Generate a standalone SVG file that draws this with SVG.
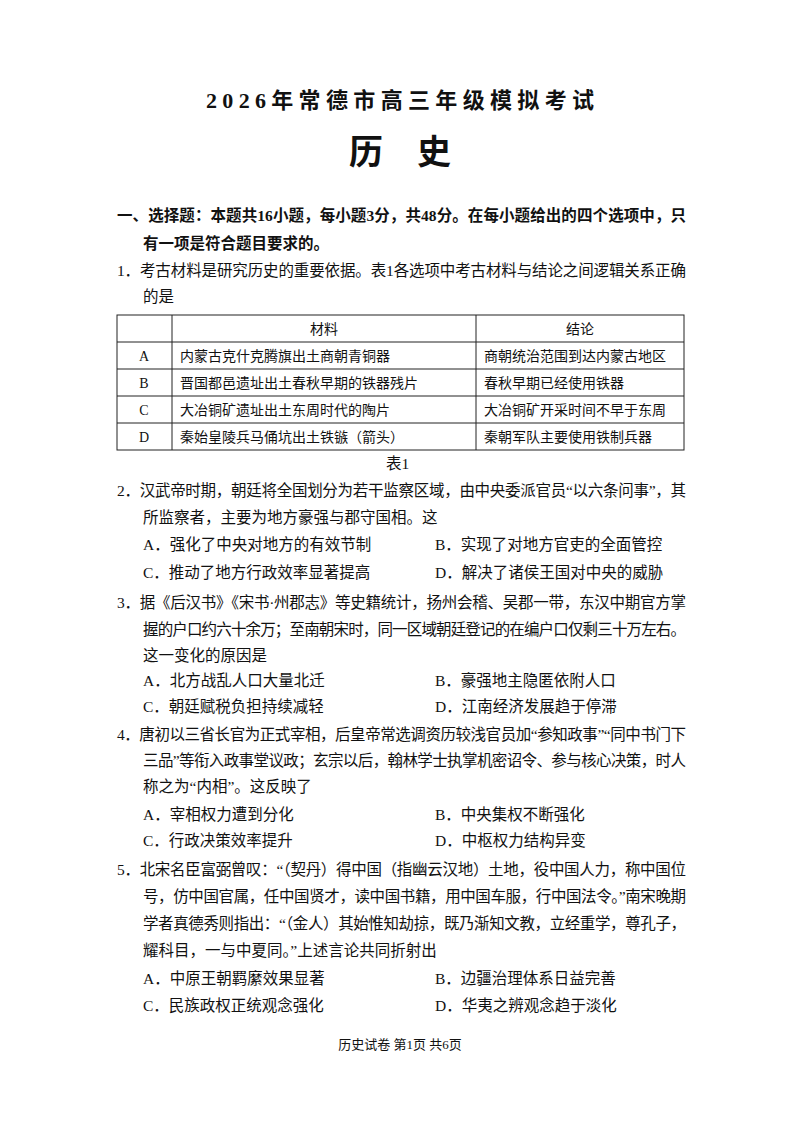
<svg xmlns="http://www.w3.org/2000/svg" width="800" height="1130" viewBox="0 0 800 1130">
<style>
text{font-family:"Liberation Serif","Noto Sans CJK SC",serif;fill:#111}
.t{font-size:15.5px}
.b{font-weight:bold}
.s{font-size:14px}
.c{text-anchor:middle}
line{stroke:#222;stroke-width:1}
</style>
<rect width="800" height="1130" fill="#fff"/>
<text x="400" y="108" class="c b" font-size="22" textLength="388" lengthAdjust="spacing">2026年常德市高三年级模拟考试</text>
<text x="400" y="164" class="c b" font-size="34">历　史</text>
<text x="117" y="221" class="t b" textLength="569" lengthAdjust="spacing">一、选择题：本题共16小题，每小题3分，共48分。在每小题给出的四个选项中，只</text>
<text x="143" y="249" class="t b">有一项是符合题目要求的。</text>
<text x="117" y="276" class="t" textLength="569" lengthAdjust="spacing">1．考古材料是研究历史的重要依据。表1各选项中考古材料与结论之间逻辑关系正确</text>
<text x="143" y="302" class="t">的是</text>
<g id="table">
<rect x="117" y="315" width="567" height="135" fill="none" stroke="#222"/>
<line x1="117" y1="342" x2="684" y2="342"/>
<line x1="117" y1="369" x2="684" y2="369"/>
<line x1="117" y1="396" x2="684" y2="396"/>
<line x1="117" y1="423" x2="684" y2="423"/>
<line x1="172" y1="315" x2="172" y2="450"/>
<line x1="476" y1="315" x2="476" y2="450"/>
<text x="324" y="334" class="s c">材料</text><text x="580" y="334" class="s c">结论</text>
<text x="144" y="361" class="s c">A</text><text x="180" y="361" class="s">内蒙古克什克腾旗出土商朝青铜器</text><text x="484" y="361" class="s">商朝统治范围到达内蒙古地区</text>
<text x="144" y="388" class="s c">B</text><text x="180" y="388" class="s">晋国都邑遗址出土春秋早期的铁器残片</text><text x="484" y="388" class="s">春秋早期已经使用铁器</text>
<text x="144" y="415" class="s c">C</text><text x="180" y="415" class="s">大冶铜矿遗址出土东周时代的陶片</text><text x="484" y="415" class="s">大冶铜矿开采时间不早于东周</text>
<text x="144" y="442" class="s c">D</text><text x="180" y="442" class="s">秦始皇陵兵马俑坑出土铁镞（箭头）</text><text x="484" y="442" class="s">秦朝军队主要使用铁制兵器</text>
</g>
<text x="386" y="469" class="t">表1</text>
<text x="117" y="496" class="t" textLength="569" lengthAdjust="spacing">2．汉武帝时期，朝廷将全国划分为若干监察区域，由中央委派官员“以六条问事”，其</text>
<text x="143" y="523" class="t">所监察者，主要为地方豪强与郡守国相。这</text>
<text x="143" y="550" class="t">A．强化了中央对地方的有效节制</text><text x="435" y="550" class="t">B．实现了对地方官吏的全面管控</text>
<text x="143" y="578" class="t">C．推动了地方行政效率显著提高</text><text x="435" y="578" class="t">D．解决了诸侯王国对中央的威胁</text>
<text x="117" y="608" class="t" textLength="569" lengthAdjust="spacing">3．据《后汉书》《宋书·州郡志》等史籍统计，扬州会稽、吴郡一带，东汉中期官方掌</text>
<text x="143" y="635" class="t" textLength="543" lengthAdjust="spacing">握的户口约六十余万；至南朝宋时，同一区域朝廷登记的在编户口仅剩三十万左右。</text>
<text x="143" y="661" class="t">这一变化的原因是</text>
<text x="143" y="686" class="t">A．北方战乱人口大量北迁</text><text x="435" y="686" class="t">B．豪强地主隐匿依附人口</text>
<text x="143" y="712" class="t">C．朝廷赋税负担持续减轻</text><text x="435" y="712" class="t">D．江南经济发展趋于停滞</text>
<text x="117" y="740" class="t" textLength="569" lengthAdjust="spacing">4．唐初以三省长官为正式宰相，后皇帝常选调资历较浅官员加“参知政事”“同中书门下</text>
<text x="143" y="766" class="t" textLength="543" lengthAdjust="spacing">三品”等衔入政事堂议政；玄宗以后，翰林学士执掌机密诏令、参与核心决策，时人</text>
<text x="143" y="792" class="t">称之为“内相”。这反映了</text>
<text x="143" y="820" class="t">A．宰相权力遭到分化</text><text x="435" y="820" class="t">B．中央集权不断强化</text>
<text x="143" y="846" class="t">C．行政决策效率提升</text><text x="435" y="846" class="t">D．中枢权力结构异变</text>
<text x="117" y="875" class="t" textLength="569" lengthAdjust="spacing">5．北宋名臣富弼曾叹：“（契丹）得中国（指幽云汉地）土地，役中国人力，称中国位</text>
<text x="143" y="902" class="t" textLength="543" lengthAdjust="spacing">号，仿中国官属，任中国贤才，读中国书籍，用中国车服，行中国法令。”南宋晚期</text>
<text x="143" y="929" class="t" textLength="543" lengthAdjust="spacing">学者真德秀则指出：“（金人）其始惟知劫掠，既乃渐知文教，立经重学，尊孔子，</text>
<text x="143" y="956" class="t">耀科目，一与中夏同。”上述言论共同折射出</text>
<text x="143" y="984" class="t">A．中原王朝羁縻效果显著</text><text x="435" y="984" class="t">B．边疆治理体系日益完善</text>
<text x="143" y="1011" class="t">C．民族政权正统观念强化</text><text x="435" y="1011" class="t">D．华夷之辨观念趋于淡化</text>
<text x="400" y="1049" class="c" font-size="13">历史试卷 第1页 共6页</text>
</svg>
